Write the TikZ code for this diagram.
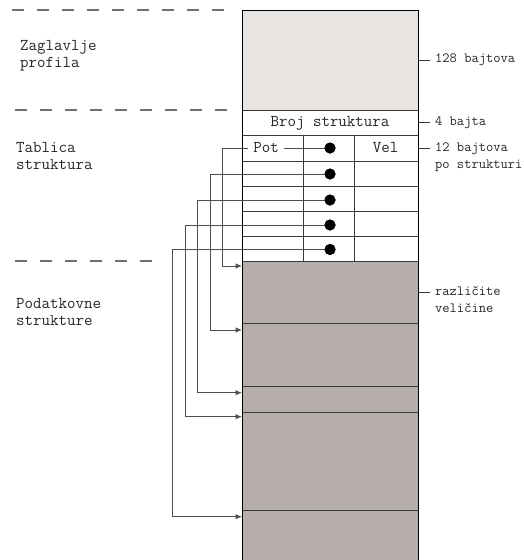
\documentclass[tikz,border=0pt]{standalone}
\usepackage{fontspec}
\usetikzlibrary{arrows.meta}
\definecolor{hdrfill}{HTML}{E8E4E2}
\definecolor{datafill}{HTML}{B5AEAB}
\definecolor{lineg}{HTML}{3A3A3A}
\definecolor{dashg}{HTML}{707070}
\begin{document}
\begin{tikzpicture}[x=1pt,y=-1pt,
  txt/.style={font=\ttfamily\fontsize{16.5}{17}\selectfont, inner sep=0pt, align=left, text=black!85},
  rtxt/.style={font=\ttfamily\fontsize{14.1}{17.5}\selectfont, inner sep=0pt, align=left, text=black!85},
  dashsep/.style={dashg, line width=1.1pt, dash pattern=on 12pt off 13pt},
  cell/.style={lineg, line width=0.9pt},
  ptr/.style={lineg!90, line width=1pt, -{Latex[length=6.5pt,width=5.5pt]}},
  dot/.style={circle, fill=black, inner sep=0pt, minimum size=11pt},
  tick/.style={black!80, line width=0.8pt}]
\useasboundingbox (0,0) rectangle (523,560);
% fills
\fill[hdrfill] (242,10) rectangle (418,110);
\fill[white] (242,110) rectangle (418,261);
\fill[datafill] (242,261) rectangle (418,561);
% table lines
\foreach \yy in {110,135,161,186,211,236,261,323.3,386.7,412.3,510.7}
  \draw[cell] (242,\yy) -- (418,\yy);
\draw[cell] (303.3,135) -- (303.3,261);
\draw[cell] (354.3,135) -- (354.3,261);
\draw[black, line width=1pt] (242,561) -- (242,10) -- (418,10) -- (418,561);
% dashed separators
\draw[dashsep] (12,10) -- (228,10);
\draw[dashsep] (15,110) -- (230,110);
\draw[dashsep] (15,261) -- (155,261);
% left labels
\node[txt, anchor=west] (zag) at (20,55.5) {Zaglavlje\\profila};
\node[txt, anchor=west] (tab) at (16,156.5) {Tablica\\struktura};
\node[txt, anchor=west] (pod) at (16,312.5) {Podatkovne\\strukture};
% right labels with ticks
\node[rtxt, anchor=west] (l128) at (435,60) {128 bajtova};
\node[rtxt, anchor=west] (l4) at (435,122.5) {4 bajta};
\node[rtxt, anchor=west] (l12) at (435,157) {12 bajtova\\po strukturi};
\node[rtxt, anchor=west] (lraz) at (435,299.5) {različite\\veličine};
\draw[tick] (418,60) -- (430,60);
\draw[tick] (418,122.5) -- (430,122.5);
\draw[tick] (418,148) -- (430,148);
\draw[tick] (418,292) -- (430,292);
% cell texts
\node[txt] (broj) at (330,123) {Broj struktura};
\node[txt] (vel) at (385.7,148) {Vel};
% dots
\node[dot] (d1) at (330,148) {};
\node[dot] (d2) at (330,174) {};
\node[dot] (d3) at (330,200) {};
\node[dot] (d4) at (330,225) {};
\node[dot] (d5) at (330,249.5) {};
% pointer columns and targets
\coordinate (v1) at (222.3,0);
\coordinate (v2) at (210,0);
\coordinate (v3) at (197.5,0);
\coordinate (v4) at (185.3,0);
\coordinate (v5) at (172.7,0);
\coordinate (t1) at (242,266);
\coordinate (t2) at (242,330);
\coordinate (t3) at (242,392.7);
\coordinate (t4) at (242,416.7);
\coordinate (t5) at (242,516.7);
\draw[ptr] (d1.center) -- (d1 -| v1) |- (t1);
\draw[ptr] (d2.center) -- (d2 -| v2) |- (t2);
\draw[ptr] (d3.center) -- (d3 -| v3) |- (t3);
\draw[ptr] (d4.center) -- (d4 -| v4) |- (t4);
\draw[ptr] (d5.center) -- (d5 -| v5) |- (t5);
\node[dot] at (d1) {};
\node[dot] at (d2) {};
\node[dot] at (d3) {};
\node[dot] at (d4) {};
\node[dot] at (d5) {};
\node[txt, fill=white, inner xsep=5pt, inner ysep=2pt] (pot) at (266,148) {Pot};
\end{tikzpicture}
\end{document}
